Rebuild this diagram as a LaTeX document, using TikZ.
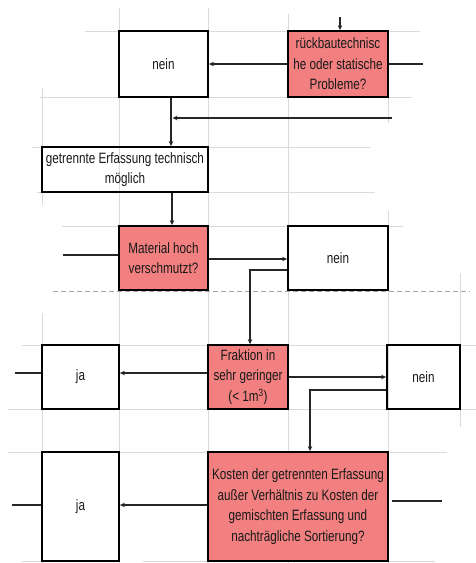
\documentclass[tikz,border=0pt]{standalone}
\usepackage{fontspec}
\setmainfont{Liberation Sans}[FakeStretch=0.78]
\usetikzlibrary{arrows.meta}
\definecolor{qred}{RGB}{242,128,128}
\definecolor{gridc}{RGB}{218,218,218}
\definecolor{dashc}{RGB}{165,165,165}
\tikzset{
  box/.style={draw=black, line width=1.8pt, inner sep=2pt, align=center,
    font=\fontsize{15}{20.5}\selectfont, text=black!90},
  qbox/.style={box, fill=qred},
  conn/.style={line width=1.1pt, black!85},
  arr/.style={conn, -{Stealth[length=5pt,width=4.5pt]}},
  gridl/.style={gridc, line width=0.9pt},
}
\begin{document}
\begin{tikzpicture}[x=1pt,y=-1pt]
\useasboundingbox (0,0) rectangle (476,563);
\fill[white] (0,0) rectangle (476,563);
% grid
\draw[gridl] (85,31) -- (420,31);
\draw[gridl] (40,97) -- (412,97);
\draw[gridl] (32,147) -- (370,147);
\draw[gridl] (37,192) -- (375,192);
\draw[gridl] (62,226) -- (403,226);
\draw[gridl] (22,345) -- (476,345);
\draw[gridl] (8,409) -- (476,409);
\draw[gridl] (8,452) -- (447,452);
\draw[gridl] (22,561) -- (119,561);
\draw[gridl] (143,561) -- (435,561);
\draw[gridl] (42,88) -- (42,205);
\draw[gridl] (42,313) -- (42,563);
\draw[gridl] (119,8) -- (119,563);
\draw[gridl] (208,8) -- (208,563);
\draw[gridl] (288,14) -- (288,563);
\draw[gridl] (388,31) -- (388,123);
\draw[gridl] (388,211) -- (388,563);
\draw[gridl] (460,273) -- (460,427);
\draw[dashc, line width=0.9pt, dash pattern=on 5pt off 3pt] (53,291) -- (470,291);
% nodes
\node[box, minimum width=89pt, minimum height=66pt] (nein1) at (163.5,64) {nein};
\node[qbox, minimum width=100pt, minimum height=66pt] (q1) at (338,64) {rückbautechnisc\\he oder statische\\Probleme?};
\node[box, minimum width=166pt, minimum height=45pt] (getr) at (125,169.5) {getrennte Erfassung technisch\\möglich};
\node[qbox, minimum width=89pt, minimum height=64pt] (mat) at (163.5,258) {Material hoch\\verschmutzt?};
\node[box, minimum width=100pt, minimum height=64pt] (nein2) at (338,258) {nein};
\node[qbox, minimum width=80pt, minimum height=64pt] (frak) at (248,377) {Fraktion in\\sehr geringer\\(< 1m\textsuperscript{3})};
\node[box, minimum width=77pt, minimum height=64pt] (ja1) at (80.5,377) {ja};
\node[box, minimum width=73pt, minimum height=64pt] (nein3) at (423.5,377) {nein};
\node[qbox, minimum width=180pt, minimum height=109pt] (kost) at (298,506.5) {Kosten der getrennten Erfassung\\außer Verhältnis zu Kosten der\\gemischten Erfassung und\\nachträgliche Sortierung?};
\node[box, minimum width=77pt, minimum height=109pt] (ja2) at (80.5,506.5) {ja};
% free ends
\coordinate (t0) at (340,17);
\coordinate (r0) at (423,64);
\coordinate (h0) at (392,118);
\coordinate (m0) at (63,255);
\coordinate (j1) at (15,373);
\coordinate (j2) at (12,505);
\coordinate (k0) at (442,501);
% connectors
\draw[arr] (t0) -- (t0 |- q1.north);
\draw[arr] (q1.west) -- (nein1.east);
\draw[conn] (q1.east) -- (r0);
\draw[arr] ([xshift=7.5pt]nein1.south) -- ([xshift=7.5pt]nein1.south |- getr.north);
\draw[arr] (h0) -- (h0 -| 172.5,0);
\draw[arr] ([xshift=47pt]getr.south) -- ([xshift=47pt]getr.south |- mat.north);
\draw[conn] (m0) -- (m0 -| mat.west);
\draw[arr] ([yshift=-1pt]mat.east) -- ([yshift=-1pt]nein2.west);
\draw[arr] ([yshift=-12pt]nein2.west) -| ([xshift=2pt]frak.north);
\draw[arr] ([yshift=4pt]frak.west) -- ([yshift=4pt]ja1.east);
\draw[conn] (j1) -- (j1 -| ja1.west);
\draw[arr] (frak.east) -- (nein3.west);
\draw[arr] ([yshift=-13pt]nein3.west) -| ([xshift=12pt]kost.north);
\draw[arr] ([yshift=1.5pt]kost.west) -- ([yshift=1.5pt]ja2.east);
\draw[conn] (j2) -- (j2 -| ja2.west);
\draw[conn] ([xshift=3pt]k0 -| kost.east) -- (k0);
\end{tikzpicture}
\end{document}
